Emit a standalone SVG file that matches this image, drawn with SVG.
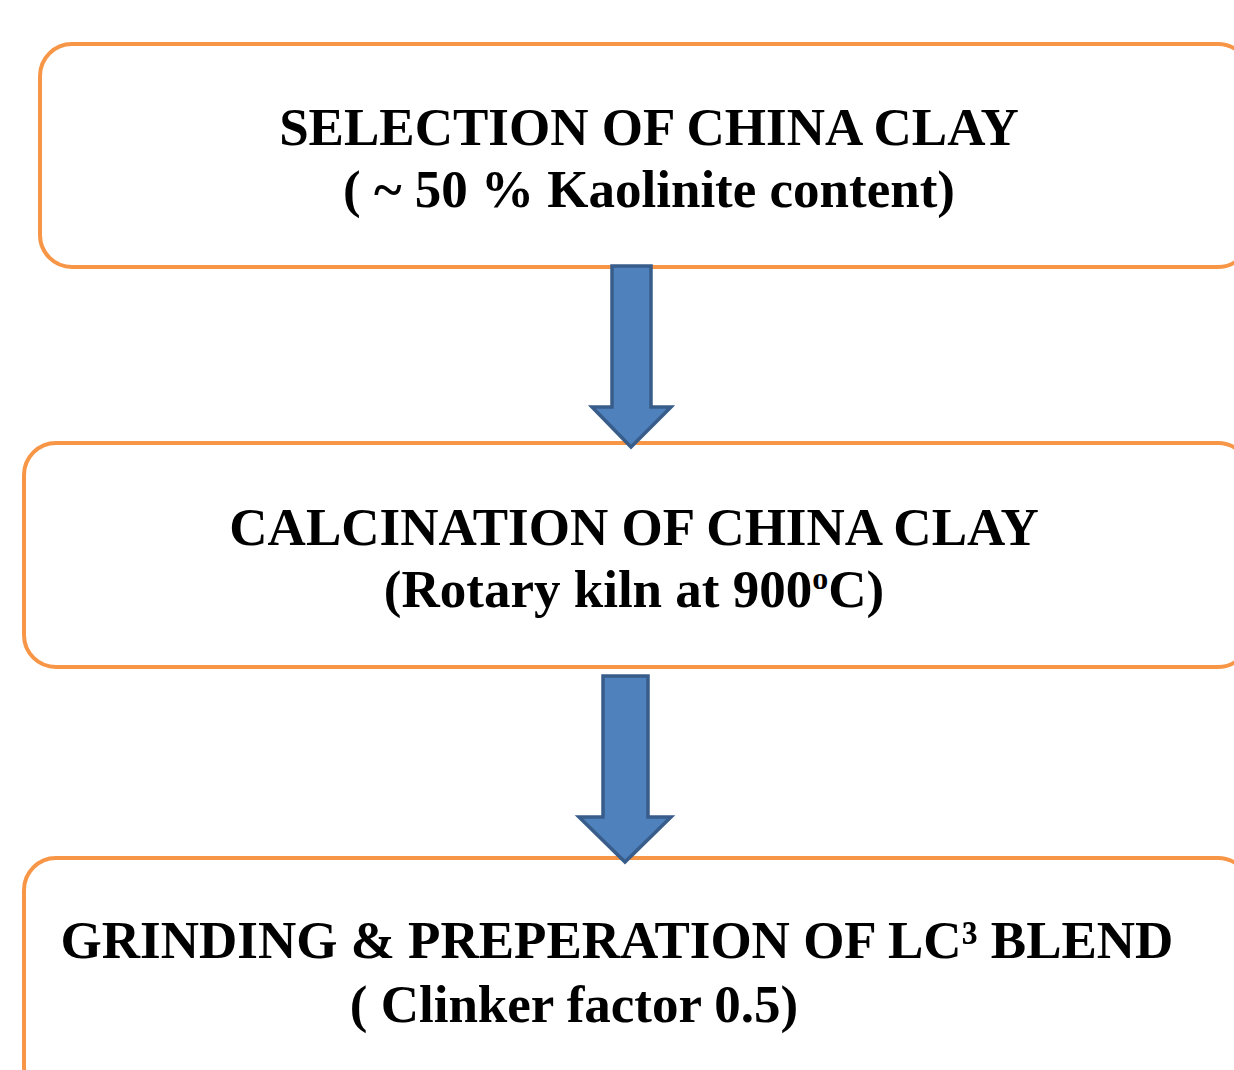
<svg xmlns="http://www.w3.org/2000/svg" width="1234" height="1070" viewBox="0 0 1234 1070">
<style>
.box{fill:#fff;stroke:#F79646;stroke-width:4}
.arr{fill:#4F81BD;stroke:#385D8A;stroke-width:3.5;stroke-linejoin:miter}
.t{font-family:"Liberation Serif","Times New Roman",serif;font-weight:bold;font-size:53px;fill:#000;text-anchor:middle}
</style>
<rect width="1234" height="1070" fill="#fff"/>
<g id="node1">
<rect class="box" x="40" y="44" width="1210" height="223" rx="32"/>
<text class="t" x="649" y="145">SELECTION OF CHINA CLAY</text>
<text class="t" x="649" y="207">( ~ 50 % Kaolinite content)</text>
</g>
<g id="node2">
<rect class="box" x="24" y="443" width="1226" height="224" rx="32"/>
<text class="t" x="634" y="545">CALCINATION OF CHINA CLAY</text>
<text class="t" x="634" y="607">(Rotary kiln at 900<tspan font-size="32" baseline-shift="18">o</tspan>C)</text>
</g>
<g id="node3">
<rect class="box" x="24" y="858" width="1226" height="240" rx="32"/>
<text class="t" x="617" y="958">GRINDING &amp; PREPERATION OF LC³ BLEND</text>
<text class="t" x="574" y="1022">( Clinker factor 0.5)</text>
</g>
<g id="connectors">
<path class="arr" d="M612 266 H651 V407 H671 L631 447 L592 407 H612 Z"/>
<path class="arr" d="M603 676 H648 V817 H671 L625 862 L579 817 H603 Z"/>
</g>
</svg>
